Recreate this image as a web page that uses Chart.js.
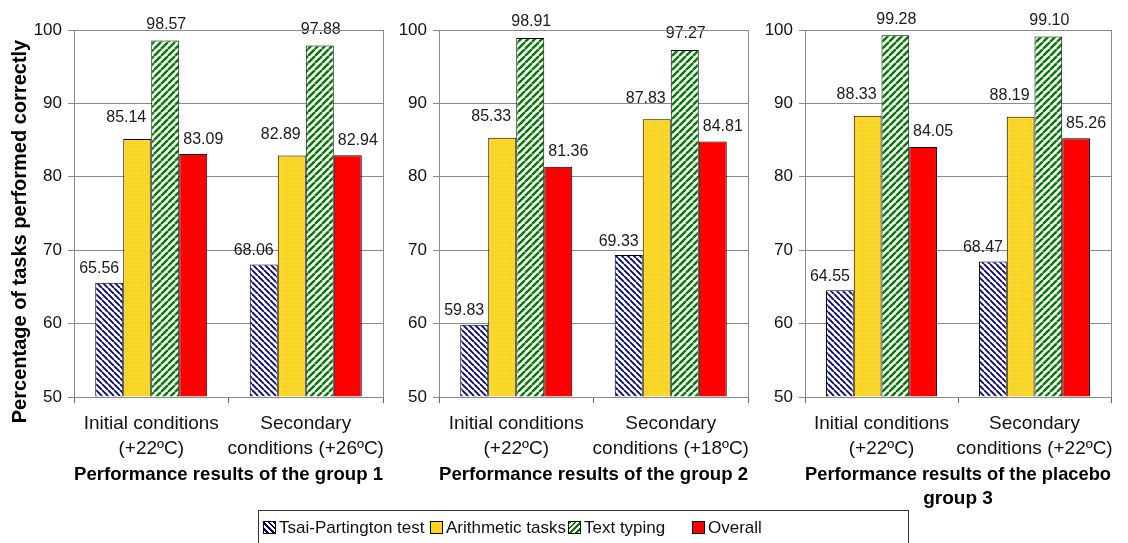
<!DOCTYPE html>
<html>
<head>
<meta charset="utf-8">
<script src="https://cdn.jsdelivr.net/npm/chart.js@4"></script>
<style>
  body { margin: 0; background: #fff; font-family: "Liberation Sans", Arial, sans-serif; }
  #wrap { position: relative; width: 1128px; height: 543px; overflow: hidden; }
  #wrap canvas { position: absolute; left: 0; top: 0; }
  #legend { position: absolute; left: 258px; top: 510px; width: 651px; height: 45px; border: 1px solid #333; box-sizing: border-box; }
  .item { position: absolute; top: 7px; font-size: 17px; color: #111; white-space: nowrap; line-height: 20px; }
  .sw { display: inline-block; width: 11px; height: 11px; border: 1px solid #000; margin-right: 3px; vertical-align: -1px; }
</style>
</head>
<body>
<div id="wrap">
  <canvas id="g1" width="1128" height="520"></canvas>
  <canvas id="g2" width="1128" height="520"></canvas>
  <canvas id="g3" width="1128" height="520"></canvas>
  <div id="legend"></div>
</div>
<script>
// values, one pair per group: [initial, secondary]
const groupTitles = [
    "Performance results of the group 1",
    "Performance results of the group 2",
    ["Performance results of the placebo", "group 3"],
];
const conditionLabels = [
    [["Initial conditions", "(+22ºC)"], ["Secondary", "conditions (+26ºC)"]],
    [["Initial conditions", "(+22ºC)"], ["Secondary", "conditions (+18ºC)"]],
    [["Initial conditions", "(+22ºC)"], ["Secondary", "conditions (+22ºC)"]],
];
const seriesNames = ["Tsai-Partington test", "Arithmetic tasks", "Text typing", "Overall"];
const tsaiPartington = [[65.56, 68.06], [59.83, 69.33], [64.55, 68.47]];
const arithmeticTasks = [[85.14, 82.89], [85.33, 87.83], [88.33, 88.19]];
const textTyping = [[98.57, 97.88], [98.91, 97.27], [99.28, 99.10]];
const overall = [[83.09, 82.94], [81.36, 84.81], [84.05, 85.26]];
const yTicks = [50, 60, 70, 80, 90, 100];
const yTitle = "Percentage of tasks performed correctly";

const FONT = "'Liberation Sans', Arial, sans-serif";

// fill patterns
const stripes = (bg, fg, size, width, back) => {
    const c = document.createElement("canvas");
    c.width = c.height = size;
    const x = c.getContext("2d");
    x.fillStyle = bg;
    x.fillRect(0, 0, size, size);
    x.strokeStyle = fg;
    x.lineWidth = width;
    x.beginPath();
    for (let k = -1; k <= 1; k++) {
        if (back) {
            x.moveTo(k * size, 0);
            x.lineTo(k * size + size, size);
        } else {
            x.moveTo(k * size, size);
            x.lineTo(k * size + size, 0);
        }
    }
    x.stroke();
    return x.createPattern(c, "repeat");
};
const dotted = () => {
    const c = document.createElement("canvas");
    c.width = c.height = 2;
    const x = c.getContext("2d");
    x.fillStyle = "#ffd21a";
    x.fillRect(0, 0, 2, 2);
    x.fillStyle = "#ffe35a";
    x.fillRect(0, 0, 1, 1);
    return x.createPattern(c, "repeat");
};
const fills = [
    stripes("#ffffff", "#000080", 6, 1.8, true),
    dotted(),
    stripes("#ffffff", "#007a00", 7, 2.4, false),
    "#ff0000",
];

// label nudges per series, like the Excel placement
const labelDx = [-10, -11, 1, 10];
const labelGap = [9, 16, 11, 10];

const valueLabels = {
    id: "valueLabels",
    afterDatasetsDraw(chart) {
        const ctx = chart.ctx;
        ctx.save();
        ctx.font = "16px " + FONT;
        ctx.fillStyle = "#1a1a1a";
        ctx.textAlign = "center";
        ctx.textBaseline = "bottom";
        chart.data.datasets.forEach((ds, i) => {
            chart.getDatasetMeta(i).data.forEach((bar, j) => {
                ctx.fillText(ds.data[j].toFixed(2), bar.x + labelDx[i], bar.y - labelGap[i] + 3);
            });
        });
        ctx.restore();
    },
};

// gray frame round the plot area, plus the shared y title on the first panel
const plotFrame = {
    id: "plotFrame",
    afterDraw(chart, args, opts) {
        const a = chart.chartArea;
        const ctx = chart.ctx;
        ctx.save();
        ctx.strokeStyle = "#8a8a8a";
        ctx.lineWidth = 1;
        ctx.strokeRect(Math.round(a.left) + 0.5, Math.round(a.top) + 0.5, Math.round(a.right - a.left), Math.round(a.bottom - a.top));
        if (opts.yTitle) {
            ctx.translate(20, (a.top + a.bottom) / 2 + 18);
            ctx.rotate(-Math.PI / 2);
            ctx.font = "bold 20px " + FONT;
            ctx.fillStyle = "#000";
            ctx.textAlign = "center";
            ctx.textBaseline = "middle";
            ctx.fillText(opts.yTitle, 0, 0);
        }
        ctx.restore();
    },
};

const panels = [
    { left: 0, yWidth: 74, right: 383, xHeight: 90, bottomPad: 33 },
    { left: 390, yWidth: 49, right: 748, xHeight: 90, bottomPad: 33 },
    { left: 760, yWidth: 45, right: 1111, xHeight: 114, bottomPad: 9 },
];
const series = [tsaiPartington, arithmeticTasks, textTyping, overall];

panels.forEach((p, g) => {
    new Chart(document.getElementById("g" + (g + 1)), {
        type: "bar",
        data: {
            labels: conditionLabels[g],
            datasets: series.map((s, i) => ({
                label: seriesNames[i],
                data: s[g],
                backgroundColor: fills[i],
                borderColor: "#000",
                borderWidth: 1,
                base: yTicks[0],
                categoryPercentage: 0.725,
                barPercentage: 1,
            })),
        },
        options: {
            responsive: false,
            animation: false,
            layout: {
                padding: { left: p.left, right: 1128 - p.right, top: 30, bottom: p.bottomPad },
            },
            plugins: {
                legend: { display: false },
                tooltip: { enabled: false },
                plotFrame: { yTitle: g === 0 ? yTitle : null },
            },
            scales: {
                x: {
                    afterFit: (scale) => {
                        scale.height = p.xHeight;
                    },
                    grid: {
                        offset: true,
                        drawOnChartArea: false,
                        tickLength: 6,
                        color: "#666",
                    },
                    border: { color: "#555" },
                    ticks: {
                        padding: 8.5,
                        color: "#111",
                        maxRotation: 0,
                        autoSkip: false,
                        font: { family: FONT, size: 19, lineHeight: "25px" },
                    },
                    title: {
                        display: true,
                        text: groupTitles[g],
                        color: "#000",
                        padding: { top: 0, bottom: 0 },
                        font: { family: FONT, size: 19, weight: "bold", lineHeight: "24px" },
                    },
                },
                y: {
                    min: yTicks[0],
                    max: yTicks[yTicks.length - 1],
                    afterFit: (scale) => {
                        scale.width = p.yWidth;
                    },
                    afterBuildTicks: (scale) => {
                        scale.ticks = yTicks.map((v) => ({ value: v }));
                    },
                    grid: { color: "#8a8a8a", tickLength: 6 },
                    border: { color: "#666" },
                    ticks: {
                        padding: 6,
                        color: "#111",
                        font: { family: FONT, size: 17 },
                    },
                },
            },
        },
        plugins: [valueLabels, plotFrame],
    });
});

// legend
const swatchCss = [
    "background: repeating-linear-gradient(45deg, #fff 0 2px, #000080 2px 4px);",
    "background: #ffd21a;",
    "background: repeating-linear-gradient(-45deg, #fff 0 2px, #007a00 2px 4px);",
    "background: #ff0000;",
];
const legendX = [4, 171, 309, 433];
const legend = document.getElementById("legend");
seriesNames.forEach((name, i) => {
    const item = document.createElement("div");
    item.className = "item";
    item.style.left = legendX[i] + "px";
    item.innerHTML = '<span class="sw" style="' + swatchCss[i] + '"></span>' + name;
    legend.appendChild(item);
});
</script>
</body>
</html>
